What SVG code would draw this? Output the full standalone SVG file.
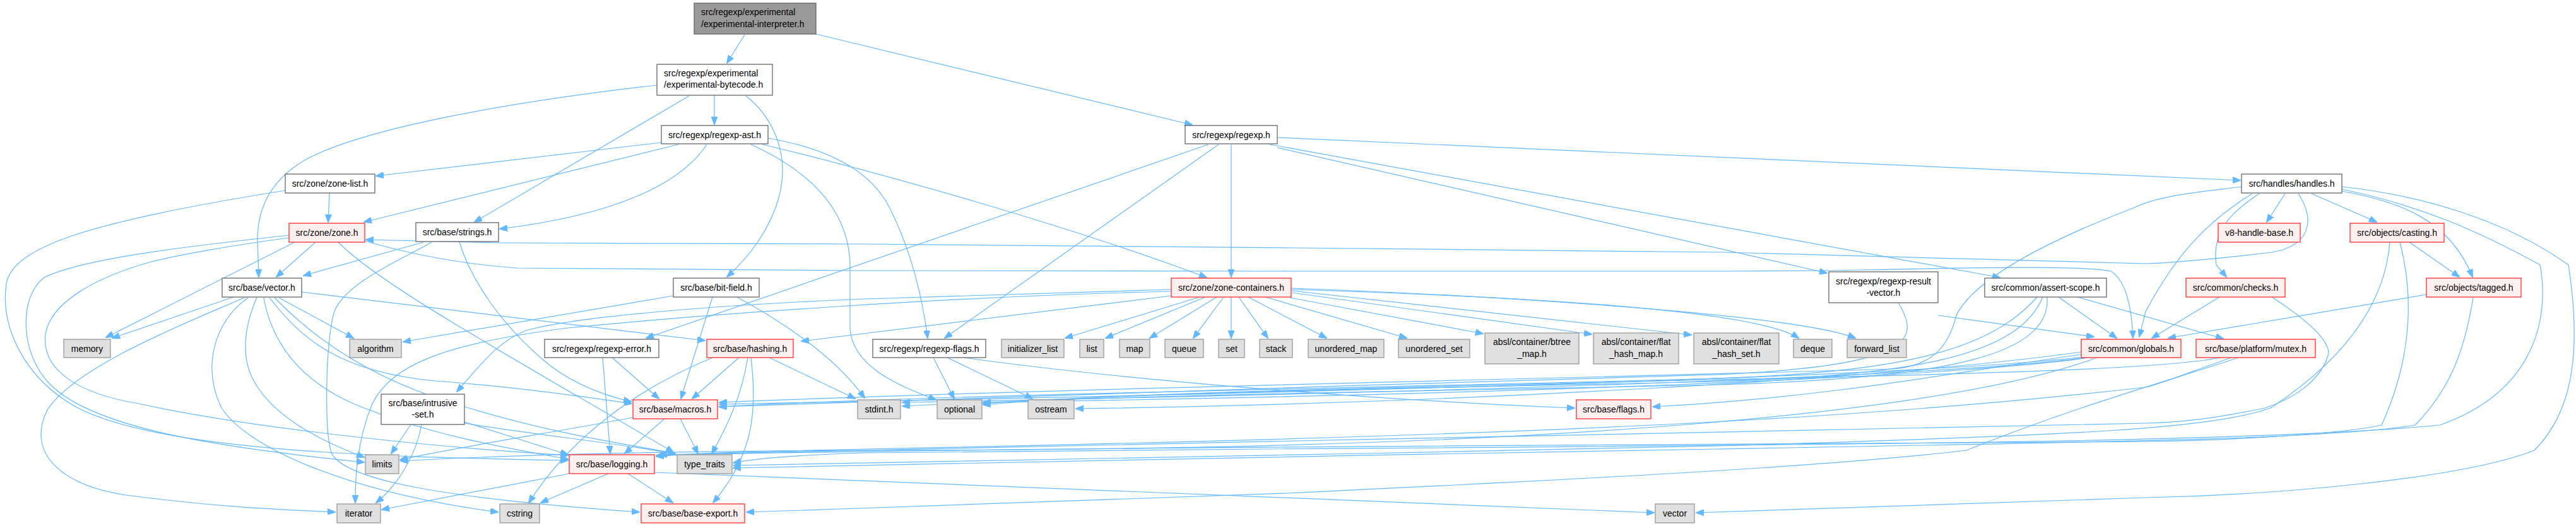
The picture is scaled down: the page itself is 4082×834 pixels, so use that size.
<svg xmlns="http://www.w3.org/2000/svg" width="4082" height="834" viewBox="0 0 4082 834">
<style>
rect{stroke-width:1.3}
.w{fill:#fff;stroke:#666}
.r{fill:#fff0f0;stroke:#ff2a2a}
.g{fill:#e0e0e0;stroke:#999}
.root{fill:#999;stroke:#666}
text{font-family:"Liberation Sans",Arial,sans-serif;font-size:14px;fill:#000;text-anchor:middle}
text.l{text-anchor:start}
.e path{fill:none;stroke:#63b8ff;stroke-width:1.2;marker-end:url(#a)}
</style>
<defs>
<marker id="a" markerWidth="13" markerHeight="10" refX="12" refY="5" orient="auto" markerUnits="userSpaceOnUse">
<path d="M0,0 L13,5 L0,10 z" fill="#63b8ff" stroke="#63b8ff"/>
</marker>
</defs>
<rect width="4082" height="834" fill="#fff"/>
<g class="e" id="edges">
<path d="M1180,55 L1152,100"/>
<path d="M1293,54 L1889,198"/>
<path d="M1132,151 L1132,197"/>
<path d="M1092,152 L752,352"/>
<path d="M1182,152 C1230,190 1250,250 1235,310 C1222,360 1190,405 1152,439"/>
<path d="M1041,135 C820,160 590,200 490,250 C425,285 408,335 408,380 L410,439"/>
<path d="M1048,226 L596,279"/>
<path d="M1075,229 L577,352"/>
<path d="M1120,229 C1080,290 980,340 792,363"/>
<path d="M1208,229 C1400,275 1700,360 1912,440"/>
<path d="M1217,219 C1310,235 1380,270 1410,330 C1440,390 1460,460 1470,536"/>
<path d="M1190,229 C1280,270 1345,330 1347,420 L1347,520 C1350,580 1420,610 1483,634"/>
<path d="M1915,229 L1024,536"/>
<path d="M1931,229 L1497,536"/>
<path d="M1951,229 L1951,439"/>
<path d="M2024,218 L3550,286"/>
<path d="M2012,229 L3169,440"/>
<path d="M2024,234 L2895,433"/>
<path d="M522,306 L520,352"/>
<path d="M452,302 C150,350 20,390 10,450 C0,520 40,600 120,645 C250,715 600,725 900,730"/>
<path d="M458,373 C300,390 130,410 70,440 C30,470 30,560 80,610 C150,680 350,710 577,733"/>
<path d="M458,377 C360,390 280,405 240,415 C150,440 80,480 72,530 C65,590 130,625 220,640 C400,680 700,710 900,722"/>
<path d="M467,384 L168,535"/>
<path d="M500,384 L438,439"/>
<path d="M536,384 C600,450 800,560 1067,717"/>
<path d="M3642,307 C3670,350 3660,390 3600,400 C3500,412 3450,416 3400,418 L2730,400 L2050,393 L1370,387 L790,385 L580,380"/>
<path d="M578,382 C640,400 720,418 820,425 L1360,429 L2050,430 L2730,430 L2896,429 C3100,425 3300,420 3345,430 C3370,445 3378,490 3380,536"/>
<path d="M671,384 L481,437"/>
<path d="M728,384 C745,440 790,510 860,570 C900,605 950,625 1000,637"/>
<path d="M684,384 C640,410 540,450 528,500 C515,560 515,680 524,714 C535,760 700,790 1013,812"/>
<path d="M370,471 L178,536"/>
<path d="M442,472 L560,536"/>
<path d="M387,472 C300,510 120,580 75,650 C40,720 100,770 200,785 C350,805 450,808 531,812"/>
<path d="M393,472 C340,510 320,580 350,645 C390,710 550,780 789,812"/>
<path d="M407,472 C390,510 380,560 400,600 C430,660 510,700 577,725"/>
<path d="M418,472 C430,540 470,600 560,640 C680,690 800,710 900,728"/>
<path d="M427,472 C480,540 540,590 690,604 C800,612 900,625 1001,640"/>
<path d="M478,463 L1117,540"/>
<path d="M435,472 C520,560 620,610 720,640 C880,690 1000,705 1070,719"/>
<path d="M1067,469 L639,542"/>
<path d="M1129,471 L1079,632"/>
<path d="M1168,471 C1230,505 1320,560 1370,631"/>
<path d="M970,567 L1044,632"/>
<path d="M955,567 L967,719"/>
<path d="M1129,567 C1000,620 900,700 838,797"/>
<path d="M1171,567 L1097,632"/>
<path d="M1185,567 C1175,630 1150,680 1128,719"/>
<path d="M1190,567 C1200,650 1195,720 1130,797"/>
<path d="M1219,567 L1355,632"/>
<path d="M1053,664 L990,719"/>
<path d="M1078,664 L1106,719"/>
<path d="M1003,662 C850,690 720,710 634,729"/>
<path d="M964,751 L857,797"/>
<path d="M995,751 L1066,797"/>
<path d="M902,751 C800,770 700,790 605,808"/>
<path d="M1037,749 C1500,770 2100,790 2621,813"/>
<path d="M651,673 L620,719"/>
<path d="M668,673 C660,720 630,770 596,797"/>
<path d="M736,669 L900,721"/>
<path d="M736,671 C850,690 1000,705 1070,720"/>
<path d="M1479,567 L1512,632"/>
<path d="M1501,567 L1636,632"/>
<path d="M1527,567 C1800,605 2200,635 2495,647"/>
<path d="M1901,471 L1688,536"/>
<path d="M1910,471 L1752,536"/>
<path d="M1928,471 L1822,536"/>
<path d="M1939,471 L1891,536"/>
<path d="M1951,471 L1951,536"/>
<path d="M1963,471 L2009,536"/>
<path d="M1978,471 L2102,536"/>
<path d="M2005,471 L2229,536"/>
<path d="M2044,472 L2350,529"/>
<path d="M2047,464 L2522,530"/>
<path d="M2047,461 L2680,531"/>
<path d="M2047,459 C2400,470 2780,490 2850,536"/>
<path d="M2047,457 C2400,470 2850,500 2940,536"/>
<path d="M1856,469 L1270,541"/>
<path d="M1856,459 L1370,474 C1100,485 900,505 834,524 C790,540 760,580 724,621"/>
<path d="M1856,462 C1500,470 1100,500 900,520 C700,545 620,580 590,640 C565,700 563,760 563,797"/>
<path d="M3071,500 L3318,534"/>
<path d="M3008,480 C3045,540 3030,580 2720,594 C2200,610 1500,630 1139,645"/>
<path d="M3262,471 L3354,536"/>
<path d="M3292,471 L3523,537"/>
<path d="M3228,471 C3150,560 3000,590 2720,600 C2200,615 1500,625 1140,645"/>
<path d="M3237,471 C3200,560 3050,595 2720,605 C2300,615 1800,620 1558,642"/>
<path d="M3244,471 C3250,560 3100,600 2720,610 C2300,620 1800,625 1430,644"/>
<path d="M3621,307 L3592,352"/>
<path d="M3663,307 L3766,352"/>
<path d="M3711,303 C3800,320 3880,345 3918,439"/>
<path d="M3580,307 C3530,340 3505,370 3512,420 L3528,439"/>
<path d="M3569,307 C3500,350 3450,400 3400,494 L3390,534"/>
<path d="M3711,300 C3840,327 3928,367 4025,420 C4040,500 4020,620 3866,674 C3600,700 3000,705 2000,712 L1370,718 C1250,722 1190,728 1162,734"/>
<path d="M3552,296 C3480,305 3420,310 3380,330 C3250,380 3130,440 3100,500 C3090,540 3070,580 3000,585 C2500,600 1700,615 1140,638"/>
<path d="M3711,296 C3840,310 3972,350 4070,420 C4090,550 4080,650 4016,714 C3900,760 3600,785 3400,789 C3100,800 2800,810 2688,813"/>
<path d="M3818,384 L3897,439"/>
<path d="M3787,384 C3780,470 3730,560 3598,647 C3500,680 3300,690 2720,707 C2200,720 1500,730 1162,738"/>
<path d="M3803,384 C3820,450 3830,550 3774,674 C3700,690 3500,699 3400,700 C2800,705 1600,708 1040,722"/>
<path d="M3845,467 L3436,536"/>
<path d="M3919,472 C3905,560 3880,620 3827,674 C3700,695 3400,700 2720,712 C2200,722 1500,732 1162,742"/>
<path d="M3517,471 L3410,536"/>
<path d="M3600,471 C3660,510 3690,540 3690,560 C3680,600 3640,630 3589,647 C3500,665 3450,670 3400,671 C2800,690 1700,700 1045,721"/>
<path d="M3298,558 C3000,600 2300,640 1705,648"/>
<path d="M3298,562 C3100,590 2900,630 2619,645"/>
<path d="M3300,566 C3100,590 2500,615 1140,641"/>
<path d="M3305,567 C3100,595 2400,620 1430,638"/>
<path d="M3310,567 C3100,598 2400,625 1558,638"/>
<path d="M3323,567 C3100,650 2500,715 1370,714 C1000,716 800,722 635,731"/>
<path d="M3547,567 C3450,600 3300,640 3116,714 C2900,740 2500,760 2040,782 L1360,806 L1183,812"/>
<path d="M3519,567 C3450,580 3300,590 2720,602 C2300,612 1800,622 1558,640"/>
<path d="M3536,567 C3470,590 3420,610 3400,614 C3000,660 2500,690 1370,712 C1200,716 1100,718 1040,724"/>
</g>
<g id="n_interp"><rect class="root" x="1100" y="5" width="193" height="49"/><text class="l" x="1111" y="24">src/regexp/experimental</text><text class="l" x="1111" y="42.5">/experimental-interpreter.h</text></g>
<g id="n_bytecode"><rect class="w" x="1041" y="102" width="183" height="49"/><text class="l" x="1052" y="120.5">src/regexp/experimental</text><text class="l" x="1052" y="139">/experimental-bytecode.h</text></g>
<g id="n_ast"><rect class="w" x="1048" y="199" width="169" height="29"/><text x="1132.5" y="218.5">src/regexp/regexp-ast.h</text></g>
<g id="n_regexp"><rect class="w" x="1878" y="199" width="146" height="29"/><text x="1951" y="218.5">src/regexp/regexp.h</text></g>
<g id="n_zonelist"><rect class="w" x="452" y="276" width="142" height="30"/><text x="523" y="296">src/zone/zone-list.h</text></g>
<g id="n_handles"><rect class="w" x="3552" y="276" width="159" height="30"/><text x="3631.5" y="296">src/handles/handles.h</text></g>
<g id="n_zone"><rect class="r" x="458" y="354" width="120" height="30"/><text x="518" y="374">src/zone/zone.h</text></g>
<g id="n_strings"><rect class="w" x="659" y="353" width="131" height="30"/><text x="724.5" y="373">src/base/strings.h</text></g>
<g id="n_v8hb"><rect class="r" x="3515" y="354" width="130" height="30"/><text x="3580" y="374">v8-handle-base.h</text></g>
<g id="n_casting"><rect class="r" x="3724" y="354" width="149" height="30"/><text x="3798.5" y="374">src/objects/casting.h</text></g>
<g id="n_vectorh"><rect class="w" x="352" y="441" width="126" height="30"/><text x="415" y="461">src/base/vector.h</text></g>
<g id="n_bitfield"><rect class="w" x="1067" y="441" width="136" height="30"/><text x="1135" y="461">src/base/bit-field.h</text></g>
<g id="n_zc"><rect class="r" x="1856" y="441" width="190" height="30"/><text x="1951" y="461">src/zone/zone-containers.h</text></g>
<g id="n_rv"><rect class="w" x="2898" y="431" width="173" height="49"/><text x="2984.5" y="450.5">src/regexp/regexp-result</text><text x="2984.5" y="469">-vector.h</text></g>
<g id="n_assert"><rect class="w" x="3145" y="441" width="193" height="30"/><text x="3241.5" y="461">src/common/assert-scope.h</text></g>
<g id="n_checks"><rect class="r" x="3464" y="441" width="157" height="30"/><text x="3542.5" y="461">src/common/checks.h</text></g>
<g id="n_tagged"><rect class="r" x="3845" y="441" width="150" height="30"/><text x="3920" y="461">src/objects/tagged.h</text></g>
<g id="n_memory"><rect class="g" x="101" y="538" width="74" height="29"/><text x="138" y="557.5">memory</text></g>
<g id="n_algorithm"><rect class="g" x="554" y="538" width="82" height="29"/><text x="595" y="557.5">algorithm</text></g>
<g id="n_rerror"><rect class="w" x="863" y="538" width="181" height="29"/><text x="953.5" y="557.5">src/regexp/regexp-error.h</text></g>
<g id="n_hashing"><rect class="r" x="1120" y="538" width="137" height="29"/><text x="1188.5" y="557.5">src/base/hashing.h</text></g>
<g id="n_rflags"><rect class="w" x="1383" y="538" width="179" height="29"/><text x="1472.5" y="557.5">src/regexp/regexp-flags.h</text></g>
<g id="n_initl"><rect class="g" x="1587" y="538" width="99" height="29"/><text x="1636.5" y="557.5">initializer_list</text></g>
<g id="n_list"><rect class="g" x="1711" y="538" width="38" height="29"/><text x="1730" y="557.5">list</text></g>
<g id="n_map"><rect class="g" x="1774" y="538" width="48" height="29"/><text x="1798" y="557.5">map</text></g>
<g id="n_queue"><rect class="g" x="1846" y="538" width="61" height="29"/><text x="1876.5" y="557.5">queue</text></g>
<g id="n_set"><rect class="g" x="1931" y="538" width="41" height="29"/><text x="1951.5" y="557.5">set</text></g>
<g id="n_stack"><rect class="g" x="1996" y="538" width="52" height="29"/><text x="2022" y="557.5">stack</text></g>
<g id="n_umap"><rect class="g" x="2073" y="538" width="120" height="29"/><text x="2133" y="557.5">unordered_map</text></g>
<g id="n_uset"><rect class="g" x="2216" y="538" width="113" height="29"/><text x="2272.5" y="557.5">unordered_set</text></g>
<g id="n_btree"><rect class="g" x="2353" y="528" width="149" height="49"/><text x="2427.5" y="546.5">absl/container/btree</text><text x="2427.5" y="565.5">_map.h</text></g>
<g id="n_fhm"><rect class="g" x="2525" y="528" width="135" height="49"/><text x="2592.5" y="546.5">absl/container/flat</text><text x="2592.5" y="565.5">_hash_map.h</text></g>
<g id="n_fhs"><rect class="g" x="2684" y="528" width="135" height="49"/><text x="2751.5" y="546.5">absl/container/flat</text><text x="2751.5" y="565.5">_hash_set.h</text></g>
<g id="n_deque"><rect class="g" x="2842" y="538" width="61" height="29"/><text x="2872.5" y="557.5">deque</text></g>
<g id="n_fwd"><rect class="g" x="2927" y="538" width="94" height="29"/><text x="2974" y="557.5">forward_list</text></g>
<g id="n_globals"><rect class="r" x="3298" y="538" width="158" height="29"/><text x="3377" y="557.5">src/common/globals.h</text></g>
<g id="n_mutex"><rect class="r" x="3480" y="538" width="189" height="29"/><text x="3574.5" y="557.5">src/base/platform/mutex.h</text></g>
<g id="n_intrusive"><rect class="w" x="604" y="625" width="132" height="48"/><text x="670" y="644">src/base/intrusive</text><text x="670" y="662">-set.h</text></g>
<g id="n_macros"><rect class="r" x="1003" y="634" width="134" height="30"/><text x="1070" y="654">src/base/macros.h</text></g>
<g id="n_stdint"><rect class="g" x="1359" y="634" width="68" height="30"/><text x="1393" y="654">stdint.h</text></g>
<g id="n_optional"><rect class="g" x="1485" y="634" width="71" height="30"/><text x="1520.5" y="654">optional</text></g>
<g id="n_ostream"><rect class="g" x="1629" y="634" width="73" height="30"/><text x="1665.5" y="654">ostream</text></g>
<g id="n_flags"><rect class="r" x="2498" y="634" width="118" height="30"/><text x="2557" y="654">src/base/flags.h</text></g>
<g id="n_limits"><rect class="g" x="579" y="721" width="53" height="30"/><text x="605.5" y="741">limits</text></g>
<g id="n_logging"><rect class="r" x="902" y="721" width="135" height="30"/><text x="969.5" y="741">src/base/logging.h</text></g>
<g id="n_typetraits"><rect class="g" x="1073" y="721" width="87" height="30"/><text x="1116.5" y="741">type_traits</text></g>
<g id="n_iterator"><rect class="g" x="534" y="799" width="69" height="30"/><text x="568.5" y="819">iterator</text></g>
<g id="n_cstring"><rect class="g" x="792" y="799" width="63" height="30"/><text x="823.5" y="819">cstring</text></g>
<g id="n_baseexport"><rect class="r" x="1016" y="799" width="164" height="30"/><text x="1098" y="819">src/base/base-export.h</text></g>
<g id="n_vector"><rect class="g" x="2623" y="799" width="62" height="30"/><text x="2654" y="819">vector</text></g>
</svg>
